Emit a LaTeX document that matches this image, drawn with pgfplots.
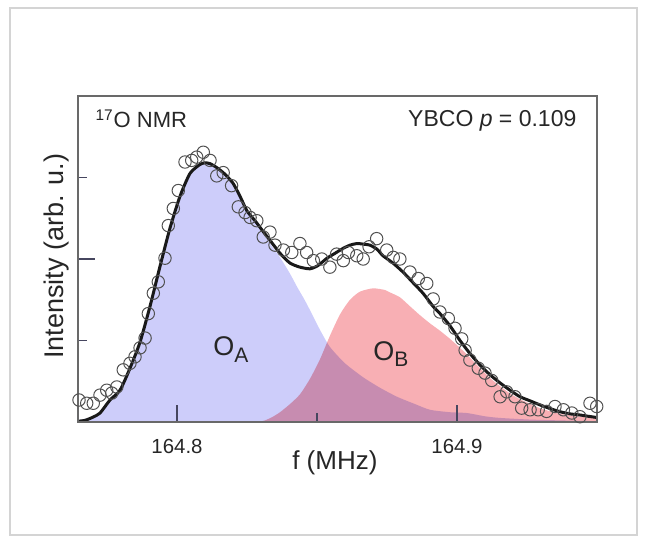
\documentclass[border=0pt]{standalone}
\usepackage{fontspec}
\setmainfont{Liberation Sans}
\usepackage{pgfplots}
\usepackage{pgfplotstable}
\pgfplotsset{compat=1.18}
\definecolor{blueA}{RGB}{205,205,250}
\definecolor{pinkB}{RGB}{248,175,180}
\definecolor{axgray}{RGB}{105,105,105}
\definecolor{framegray}{RGB}{212,212,212}
\definecolor{markgray}{RGB}{80,80,80}
\definecolor{tickcol}{RGB}{70,70,95}

% x = (f - 164.8 MHz) in kHz
\pgfplotstableread{
x y
-35.36 0.02
-32.86 0.04
-30.0 0.06
-27.5 0.11
-23.93 0.27
-20.36 0.39
-16.79 0.66
-13.21 0.98
-9.64 1.42
-6.07 1.91
-2.5 2.38
1.07 2.77
4.64 3.05
8.21 3.16
10.0 3.18
11.79 3.17
14.29 3.12
17.14 3.04
20.0 2.93
22.5 2.77
25.0 2.59
29.64 2.39
33.21 2.19
36.79 2.02
40.36 1.82
42.86 1.66
45.71 1.49
48.57 1.30
51.07 1.13
54.64 0.92
60.0 0.72
66.43 0.55
72.5 0.42
78.57 0.31
85.0 0.22
90.36 0.15
97.5 0.12
103.57 0.11
110.0 0.07
115.36 0.05
126.07 0.03
136.79 0.02
150.0 0.01
}\OA

\pgfplotstableread{
x y
29.0 0.0
31.43 0.02
34.0 0.06
36.79 0.12
40.36 0.22
43.93 0.34
47.5 0.53
51.07 0.77
54.64 1.06
58.21 1.32
61.79 1.50
65.36 1.60
70.0 1.64
74.29 1.62
76.07 1.59
79.64 1.53
83.21 1.42
86.79 1.31
90.36 1.21
93.93 1.12
97.5 1.02
101.07 0.91
104.64 0.79
108.21 0.66
111.79 0.54
115.36 0.44
118.93 0.35
122.5 0.28
129.64 0.17
136.79 0.10
143.93 0.065
150.0 0.045
}\OB

\pgfplotstableread{
x y
-35.36 0.01
-32.86 0.02
-30.0 0.06
-27.5 0.11
-23.93 0.27
-20.36 0.39
-16.79 0.66
-13.21 0.98
-9.64 1.42
-6.07 1.91
-2.5 2.38
1.07 2.77
4.64 3.05
8.21 3.16
10.0 3.18
11.79 3.17
14.29 3.12
17.14 3.04
20.0 2.93
22.5 2.77
25.0 2.59
27.86 2.47
30.71 2.34
33.21 2.23
36.79 2.07
40.36 1.95
43.93 1.90
47.5 1.88
50.36 1.92
53.57 2.01
56.43 2.07
59.29 2.13
61.79 2.17
64.29 2.19
67.14 2.18
68.93 2.17
71.43 2.12
73.57 2.04
77.14 1.95
80.71 1.84
84.29 1.71
87.86 1.58
91.43 1.42
93.93 1.33
97.5 1.18
101.07 1.00
104.64 0.84
108.21 0.70
111.79 0.58
115.36 0.48
118.93 0.39
122.5 0.31
126.07 0.26
129.64 0.21
133.21 0.165
136.79 0.126
140.36 0.10
143.93 0.086
147.5 0.067
150.0 0.055
}\FIT

\pgfplotstableread{
x y
-35.0 0.27
-32.25 0.23
-29.9 0.23
-27.5 0.33
-25.1 0.39
-23.3 0.355
-21.5 0.43
-19.2 0.64
-16.8 0.72
-15.0 0.80
-13.2 0.91
-11.4 1.03
-10.25 1.33
-8.46 1.58
-6.68 1.72
-4.29 2.01
-3.11 2.41
-1.32 2.62
0.46 2.84
2.86 3.19
5.25 3.21
7.04 3.25
9.39 3.31
11.8 3.21
14.2 3.02
16.5 3.06
19.5 2.90
21.9 2.64
24.3 2.57
26.1 2.51
28.5 2.47
30.8 2.27
33.2 2.33
35.0 2.17
38.0 2.11
41.0 2.08
43.9 2.19
46.3 2.08
48.7 1.98
51.7 2.00
54.6 1.90
57.0 2.06
59.4 1.98
61.2 2.08
64.2 2.04
66.5 2.00
68.6 2.15
71.3 2.25
74.9 2.11
77.25 2.02
79.6 2.00
83.2 1.84
86.2 1.76
89.2 1.70
91.5 1.51
93.9 1.35
96.9 1.27
99.3 1.15
101.7 1.02
102.9 0.88
104.6 0.76
107.6 0.66
110.0 0.60
112.4 0.51
115.4 0.31
117.75 0.37
120.7 0.31
123.1 0.17
126.1 0.15
129.0 0.15
132.0 0.13
135.0 0.19
138.0 0.15
141.0 0.11
143.9 0.065
147.5 0.23
149.9 0.19
}\DATA

\begin{document}
\begin{tikzpicture}
\useasboundingbox (-39pt,-60.5pt) rectangle (285pt,211pt);
\draw[framegray, line width=0.75pt] (-34pt,-56.5pt) rectangle (279.5pt,207pt);
\begin{axis}[
  at={(0,0)}, anchor=south west,
  scale only axis, width=259.5pt, height=163pt,
  xmin=-35.36, xmax=150, ymin=0, ymax=4,
  axis on top=true,
  axis line style={axgray, line width=1pt},
  tick pos=left, tick align=inside,
  xtick={0,100}, xticklabels={164.8,164.9}, minor xtick={50},
  ytick={2}, yticklabels={}, minor ytick={1,3},
  major tick length=8.5pt, minor tick length=4.5pt,
  every tick/.style={tickcol, line width=0.6pt},
  xticklabel style={font=\fontsize{10.2}{12}\selectfont, text=black!85},
  xticklabel shift=5pt,
  xlabel={f (MHz)},
  xlabel style={at={(rel axis cs:0.495,-0.1258)}, anchor=center, font=\fontsize{13}{15}\selectfont, text=black!85},
  ylabel={Intensity (arb. u.)},
  ylabel style={at={(rel axis cs:-0.0405,0.508)}, anchor=center, font=\fontsize{13.5}{16}\selectfont, text=black!85},
  clip=true,
]
\addplot[fill=blueA, draw=none, smooth, tension=0.4] table {\OA} \closedcycle;
\addplot[fill=pinkB, draw=none, smooth, tension=0.4, /tikz/blend mode=multiply] table {\OB} \closedcycle;
\addplot[only marks, mark=o, mark size=3.1pt, markgray, mark options={line width=0.5pt}] table {\DATA};
\addplot[black!90, line width=1.5pt, smooth, tension=0.4] table {\FIT};
\node[anchor=base west, inner sep=0pt, font=\fontsize{11}{13}\selectfont, text=black!85] at (rel axis cs:0.033,0.902) {\textsuperscript{17}O NMR};
\node[anchor=base east, inner sep=0pt, font=\fontsize{11.5}{13}\selectfont, text=black!85] at (rel axis cs:0.961,0.905) {YBCO \textit{p} = 0.109};
\node[anchor=base west, inner sep=0pt, font=\fontsize{13.5}{16}\selectfont, text=black!85] at (axis cs:12.86,0.82) {O\raisebox{-3.5pt}{\fontsize{10.5}{12}\selectfont A}};
\node[anchor=base west, inner sep=0pt, font=\fontsize{13.5}{16}\selectfont, text=black!85] at (axis cs:70.0,0.76) {O\raisebox{-3pt}{\fontsize{10.5}{12}\selectfont B}};
\end{axis}
\end{tikzpicture}
\end{document}
